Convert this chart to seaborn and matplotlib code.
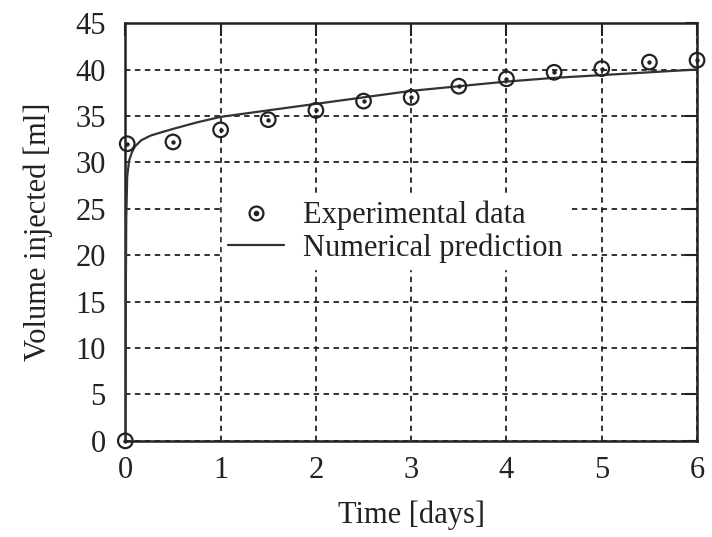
import matplotlib
matplotlib.use("Agg")
import matplotlib.pyplot as plt
from matplotlib.lines import Line2D
import seaborn as sns
import pandas as pd

# Measured injection volume over time
exp_time = [0.0, 0.02, 0.5, 1.0, 1.5, 2.0, 2.5, 3.0, 3.5, 4.0, 4.5, 5.0, 5.5, 6.0]
exp_volume = [0.0, 32.0, 32.2, 33.5, 34.6, 35.6, 36.6, 37.0, 38.2, 39.0, 39.7, 40.1, 40.8, 41.0]

# Model prediction
num_time = [0.0, 0.005, 0.01, 0.02, 0.04, 0.07, 0.1, 0.17, 0.27, 0.4, 0.5, 0.75, 1.0,
            1.5, 2.0, 2.5, 3.0, 3.5, 4.0, 4.5, 5.0, 5.5, 6.0]
num_volume = [0.0, 15.0, 24.0, 28.5, 30.2, 31.1, 31.7, 32.4, 32.9, 33.3, 33.6, 34.3, 34.9,
              35.6, 36.3, 37.0, 37.7, 38.2, 38.7, 39.1, 39.4, 39.7, 40.0]

x_ticks = [0, 1, 2, 3, 4, 5, 6]
y_ticks = [0, 5, 10, 15, 20, 25, 30, 35, 40, 45]

sns.set_style("white")
plt.rcParams["font.family"] = ["Liberation Serif", "DejaVu Serif"]

exp_df = pd.DataFrame({"t": exp_time, "v": exp_volume})
num_df = pd.DataFrame({"t": num_time, "v": num_volume})

fig = plt.figure(figsize=(7.12, 5.37), dpi=100)
ax = fig.add_axes([0.176, 0.179, 0.803, 0.778])

ink = "#222222"
fs = 22

sns.lineplot(data=num_df, x="t", y="v", ax=ax, color="#333333", lw=1.6,
             sort=False, estimator=None, zorder=3)
sns.scatterplot(data=exp_df, x="t", y="v", ax=ax, marker="o", s=110,
                facecolor="none", edgecolor=ink, linewidth=1.6, zorder=4, clip_on=False)
sns.scatterplot(data=exp_df, x="t", y="v", ax=ax, marker="o", s=10,
                color=ink, linewidth=0, zorder=5, clip_on=False)

ax.set_xlim(0, 6)
ax.set_ylim(0, 45)
ax.set_xticks(x_ticks)
ax.set_yticks(y_ticks)
ax.grid(True, color=ink, linestyle=(0, (3, 2.5)), linewidth=1.3)
ax.set_axisbelow(True)

ax.tick_params(axis="both", which="major", direction="in", length=9, width=1.5,
               colors=ink, labelsize=fs, top=True, right=True)
ax.tick_params(axis="x", pad=11)
ax.tick_params(axis="y", pad=14)
for side in ax.spines.values():
    side.set_visible(True)
    side.set_color(ink)
    side.set_linewidth(1.8)

ax.set_xlabel("Time [days]", fontsize=fs, color=ink, labelpad=11)
ax.set_ylabel("Volume injected [ml]", fontsize=fs, color=ink, labelpad=16)

exp_handle = (Line2D([], [], marker="o", ls="none", ms=10, mfc="none", mec=ink, mew=1.6),
              Line2D([], [], marker="o", ls="none", ms=3, mfc=ink, mec=ink))
num_handle = Line2D([], [], color="#333333", lw=1.6)
leg = ax.legend([exp_handle, num_handle], ["Experimental data", "Numerical prediction"],
                loc="center", bbox_to_anchor=(0.472, 0.5), fontsize=fs, frameon=True,
                fancybox=False, framealpha=1.0, edgecolor="white", facecolor="white",
                handlelength=1.85, handletextpad=0.6, labelspacing=0.1,
                borderpad=0.2)
for txt in leg.get_texts():
    txt.set_color(ink)

fig.savefig("out.png", dpi=100)
